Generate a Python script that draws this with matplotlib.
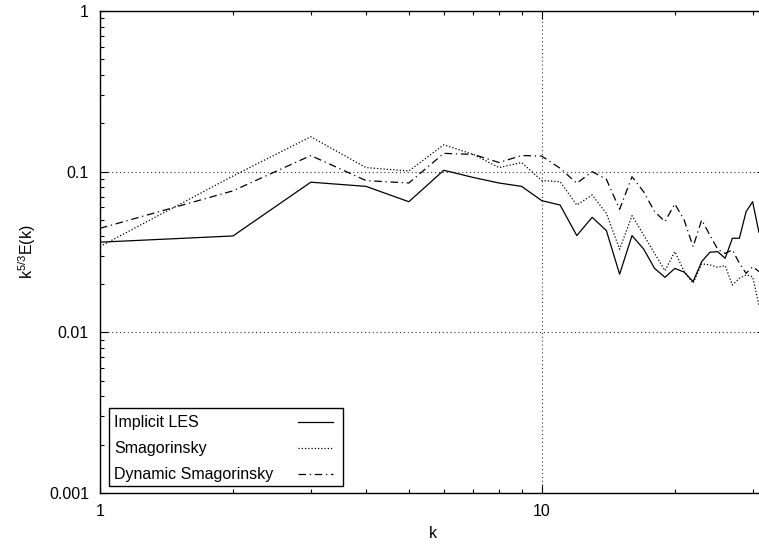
import matplotlib
matplotlib.use("Agg")
import matplotlib.pyplot as plt
from matplotlib.patches import Rectangle
from matplotlib.ticker import FixedLocator, FixedFormatter, LogLocator, NullFormatter

plt.rcParams['font.family'] = ['Liberation Sans', 'DejaVu Sans']
plt.rcParams['font.size'] = 11.5

k = list(range(1, 32))

implicit_les = [0.0364, 0.0398, 0.086, 0.081, 0.065, 0.102, 0.092, 0.085, 0.081, 0.066,
                0.062, 0.040, 0.052, 0.043, 0.023, 0.040, 0.033, 0.025, 0.022, 0.025,
                0.0237, 0.0207, 0.0275, 0.0315, 0.0318, 0.0289, 0.0385, 0.0385, 0.0564, 0.065,
                0.042]
smagorinsky = [0.0342, 0.094, 0.165, 0.106, 0.101, 0.147, 0.128, 0.106, 0.114, 0.088,
               0.0866, 0.062, 0.0716, 0.055, 0.0329, 0.0532, 0.0404, 0.031, 0.0242, 0.0318,
               0.0239, 0.0202, 0.0267, 0.0263, 0.0254, 0.026, 0.0197, 0.0217, 0.0228, 0.0222,
               0.0148]
dynamic_smag = [0.0444, 0.076, 0.126, 0.088, 0.085, 0.130, 0.128, 0.114, 0.126, 0.125,
                0.105, 0.0847, 0.100, 0.0897, 0.0583, 0.093, 0.075, 0.0564, 0.0489, 0.063,
                0.050, 0.0341, 0.050, 0.0404, 0.0329, 0.031, 0.0326, 0.0269, 0.0233, 0.0256,
                0.0239]

labels = ["Implicit LES", "Smagorinsky", "Dynamic Smagorinsky"]
styles = [dict(linestyle='-', lw=0.9),
          dict(linestyle=(0, (1, 1.6)), lw=0.9),
          dict(linestyle=(0, (6, 3, 1, 3)), lw=0.9)]

y_ticks = [1, 0.1, 0.01, 0.001]
y_tick_labels = ["1", "0.1", "0.01", "0.001"]
x_ticks = [1, 10]
x_tick_labels = ["1", "10"]

fig = plt.figure(figsize=(7.59, 5.44), dpi=100)
# axes run slightly past the right edge of the canvas
ax = fig.add_axes([100 / 759, 51 / 544, 665 / 759, 482 / 544])
ax.set_xscale('log')
ax.set_yscale('log')
ax.set_xlim(1, 32)
ax.set_ylim(0.001, 1)

for series, st in zip([implicit_les, smagorinsky, dynamic_smag], styles):
    ax.plot(k, series, color='black', **st)

ax.xaxis.set_major_locator(FixedLocator(x_ticks))
ax.xaxis.set_major_formatter(FixedFormatter(x_tick_labels))
ax.yaxis.set_major_locator(FixedLocator(y_ticks))
ax.yaxis.set_major_formatter(FixedFormatter(y_tick_labels))
ax.xaxis.set_minor_locator(LogLocator(base=10, subs=range(2, 10), numticks=20))
ax.yaxis.set_minor_locator(LogLocator(base=10, subs=range(2, 10), numticks=20))
ax.xaxis.set_minor_formatter(NullFormatter())
ax.yaxis.set_minor_formatter(NullFormatter())
ax.tick_params(which='both', direction='in', top=True, right=True, width=0.8)
ax.tick_params(which='major', length=6, pad=8)
ax.tick_params(which='minor', length=3)

ax.grid(True, which='major', color='0.2', linestyle=(0, (1, 2.5)), lw=0.8)
for s in ax.spines.values():
    s.set_linewidth(1.0)

ax.set_xlabel("k", labelpad=5)
ax.set_ylabel(r"$\mathregular{k^{5/3}E(k)}$", labelpad=8)

# legend box: text on the left, line sample on the right
box = Rectangle((0.0136, 0.0145), 0.352, 0.1615, transform=ax.transAxes,
                facecolor='white', edgecolor='black', lw=1.0, zorder=5)
ax.add_patch(box)
rows = [0.147, 0.093, 0.039]
for lab, st, yy in zip(labels, styles, rows):
    ax.text(0.021, yy, lab, transform=ax.transAxes, va='center', ha='left', zorder=6)
    ax.plot([0.297, 0.351], [yy, yy], transform=ax.transAxes, color='black',
            clip_on=False, zorder=6, **st)

fig.savefig("out.png", dpi=100)
